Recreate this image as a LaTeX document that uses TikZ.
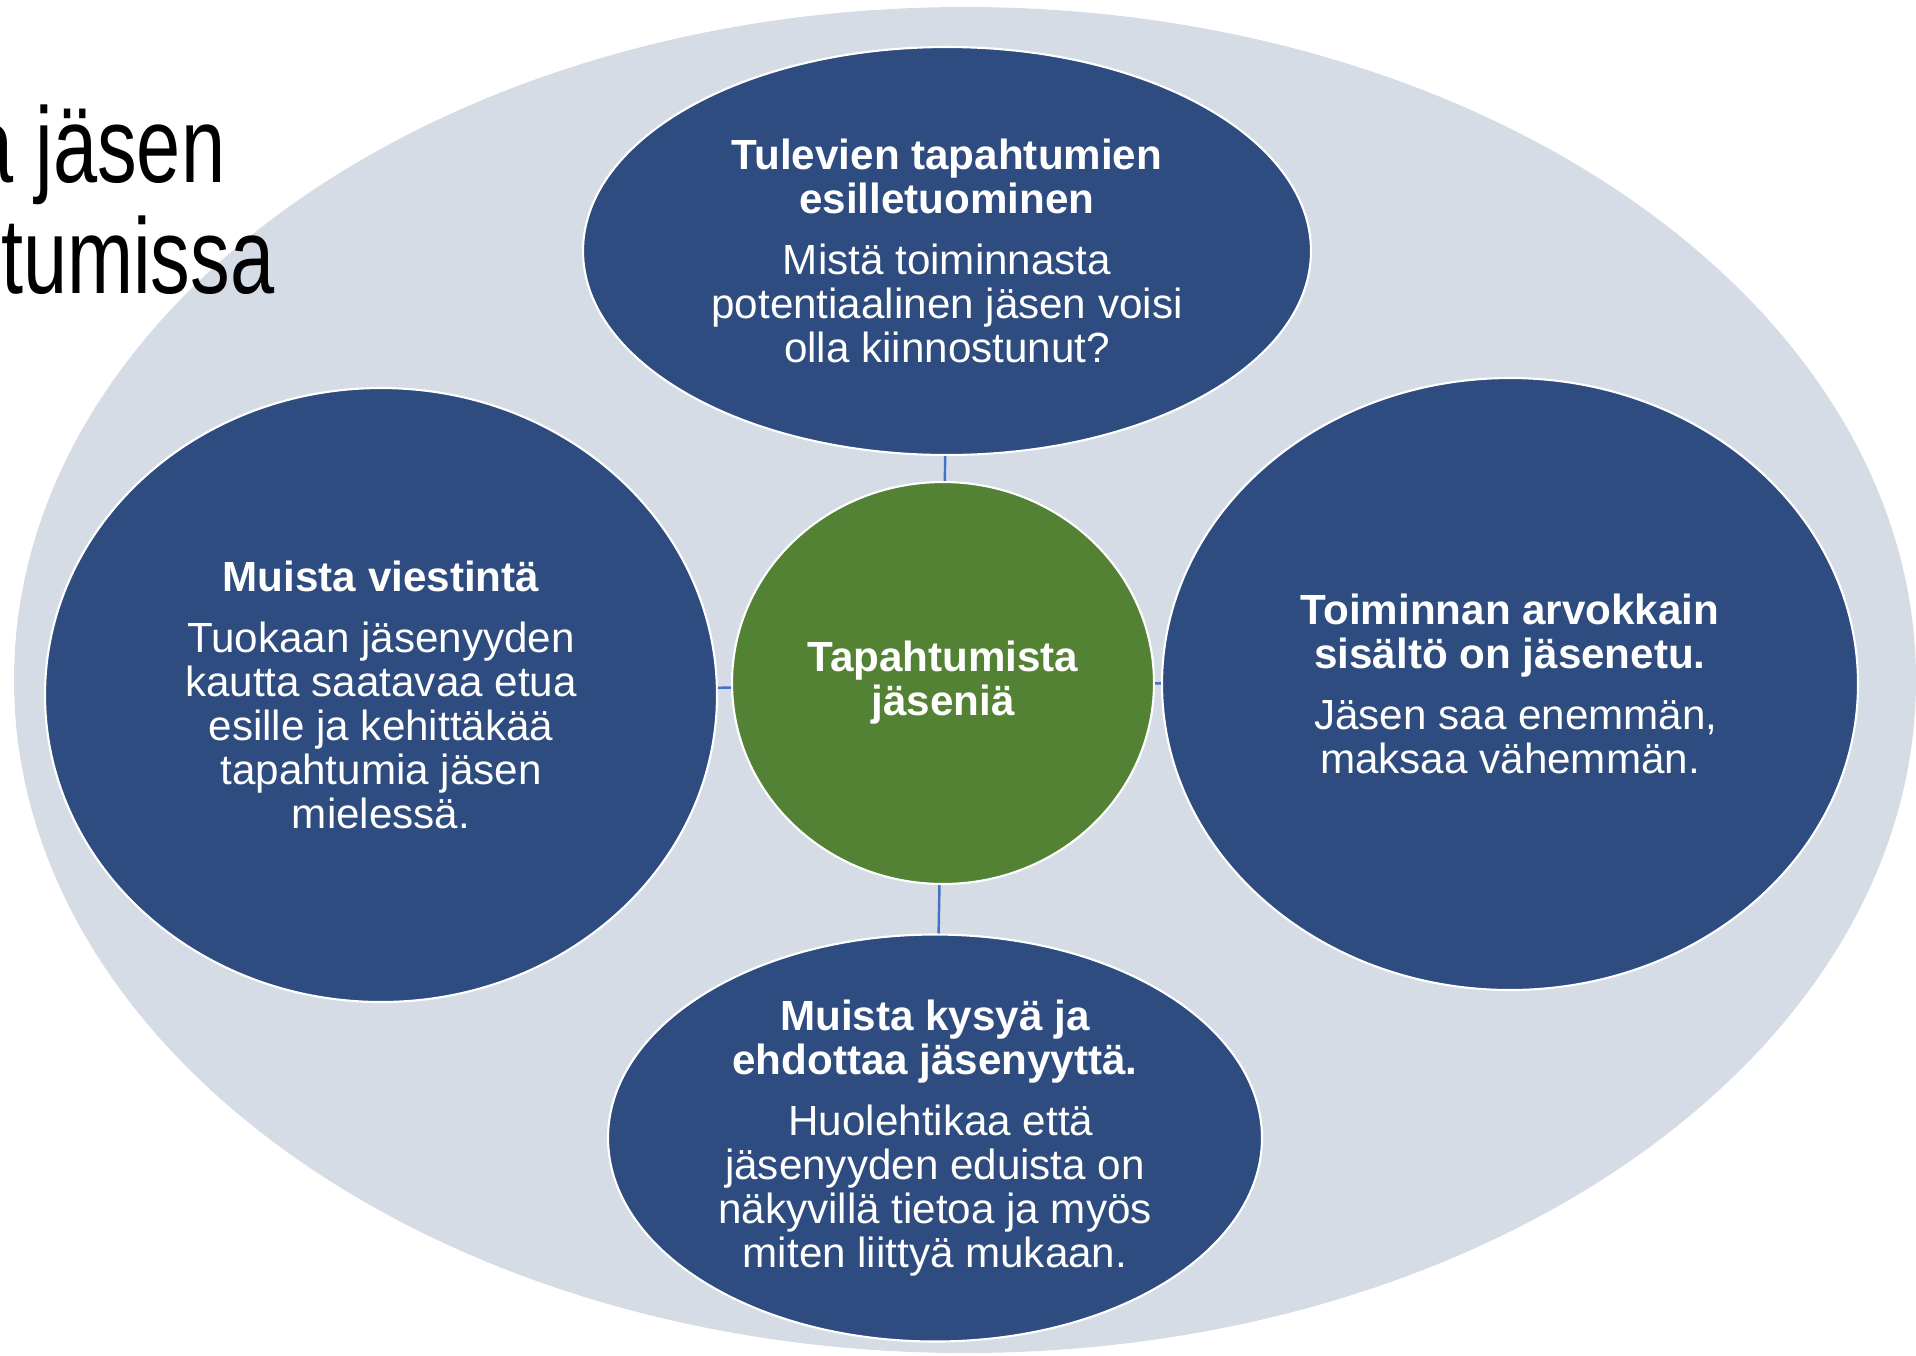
\documentclass[tikz,border=0pt]{standalone}
\usepackage{fontspec}
\setmainfont{Liberation Sans}
\usetikzlibrary{shapes.geometric}
\definecolor{bgc}{HTML}{D6DCE5}
\definecolor{navy}{HTML}{2E4C7F}
\definecolor{leaf}{HTML}{548235}
\definecolor{conn}{HTML}{4472C4}
\begin{document}
\begin{tikzpicture}[
  x=0.1mm, y=-0.1mm,
  font=\fontsize{12}{12.5}\selectfont,
  blob/.style={ellipse, draw=white, line width=0.6pt, fill=navy, text=white, align=center, inner sep=0pt},
  hubstyle/.style={blob, fill=leaf},
  link/.style={draw=conn, line width=0.7pt},
  title/.style={anchor=base east, inner sep=0pt, font=\fontsize{30.5}{31}\selectfont}
]
\useasboundingbox (0,0) rectangle (1916,1355);
\clip (0,0) rectangle (1916,1355);
\fill[bgc] (965,680) ellipse [x radius=95.1mm, y radius=67.3mm];
\node[title] (title1) at (226,182) {\scalebox{0.74}[1]{a jäsen}};
\node[title] (title2) at (275,293) {\scalebox{0.74}[1]{tumissa}};
\node[hubstyle, minimum width=42.2mm, minimum height=40.2mm] (hub) at (943,683) {\textbf{Tapahtumista}\\\textbf{jäseniä}};
\node[blob, minimum width=72.8mm, minimum height=40.8mm] (events) at (947,251) {\textbf{Tulevien tapahtumien}\\\textbf{esilletuominen}\\[4.8pt]Mistä toiminnasta\\potentiaalinen jäsen voisi\\olla kiinnostunut?};
\node[blob, minimum width=67.2mm, minimum height=61.4mm] (comms) at (381,695) {\textbf{Muista viestintä}\\[4.8pt]Tuokaan jäsenyyden\\kautta saatavaa etua\\esille ja kehittäkää\\tapahtumia jäsen\\mielessä.};
\node[blob, minimum width=69.6mm, minimum height=61.2mm] (value) at (1510,684) {\textbf{Toiminnan arvokkain}\\\textbf{sisältö on jäsenetu.}\\[4.8pt]\ Jäsen saa enemmän,\\maksaa vähemmän.};
\node[blob, minimum width=65.4mm, minimum height=40.7mm] (ask) at (935,1138) {\textbf{Muista kysyä ja}\\\textbf{ehdottaa jäsenyyttä.}\\[4.8pt]\ Huolehtikaa että\\jäsenyyden eduista on\\näkyvillä tietoa ja myös\\miten liittyä mukaan.};
\draw[link] (events) -- (hub);
\draw[link] (comms) -- (hub);
\draw[link] (value) -- (hub);
\draw[link] (ask) -- (hub);
\end{tikzpicture}
\end{document}
